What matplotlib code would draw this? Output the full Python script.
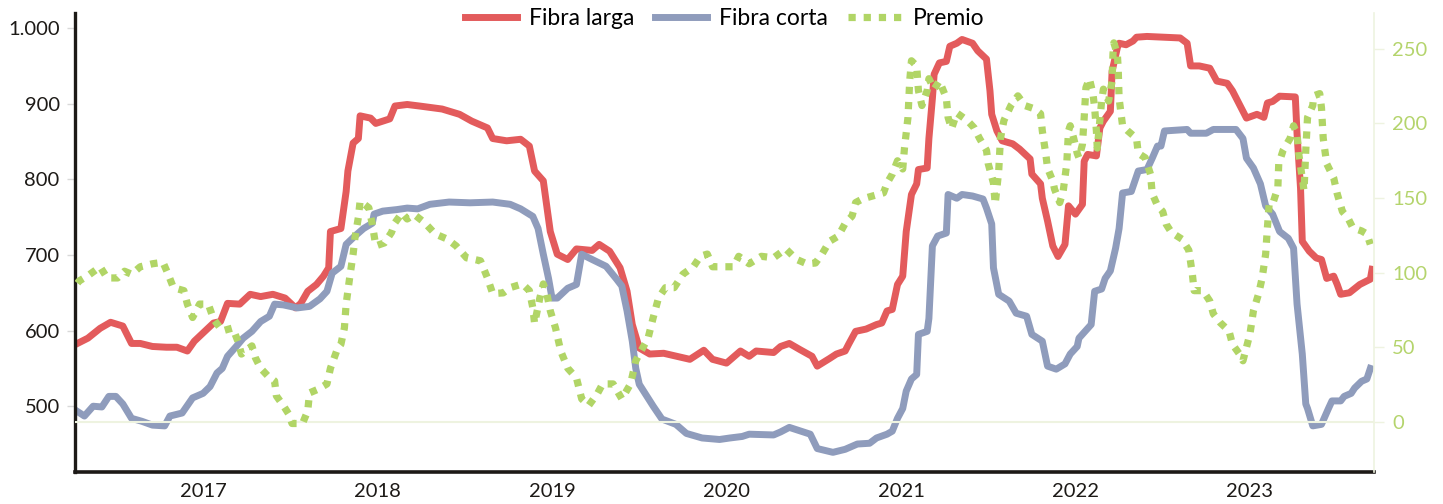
import matplotlib
matplotlib.use("Agg")
import matplotlib.pyplot as plt
from matplotlib.ticker import FuncFormatter

# ---------------- data (decimal years, values) ----------------
larga_x = [2016.28, 2016.34, 2016.41, 2016.47, 2016.54, 2016.59, 2016.64, 2016.71, 2016.79, 2016.85,
           2016.91, 2016.95, 2017.06, 2017.10, 2017.14, 2017.21, 2017.27, 2017.33, 2017.40, 2017.47,
           2017.53, 2017.56, 2017.60, 2017.65, 2017.69, 2017.72, 2017.73, 2017.79, 2017.82, 2017.83,
           2017.86, 2017.89, 2017.90, 2017.96, 2017.99, 2018.07, 2018.10, 2018.17, 2018.24, 2018.37,
           2018.47, 2018.54, 2018.63, 2018.66, 2018.74, 2018.82, 2018.87, 2018.90, 2018.95, 2018.99,
           2019.03, 2019.09, 2019.14, 2019.23, 2019.27, 2019.33, 2019.39, 2019.43, 2019.46, 2019.50,
           2019.56, 2019.64, 2019.79, 2019.87, 2019.92, 2020.00, 2020.08, 2020.13, 2020.17, 2020.27,
           2020.31, 2020.36, 2020.42, 2020.49, 2020.52, 2020.59, 2020.63, 2020.68, 2020.70, 2020.74,
           2020.80, 2020.86, 2020.89, 2020.92, 2020.95, 2020.98, 2021.01, 2021.03, 2021.06, 2021.09,
           2021.10, 2021.15, 2021.16, 2021.18, 2021.19, 2021.22, 2021.26, 2021.28, 2021.32, 2021.35,
           2021.41, 2021.44, 2021.49, 2021.51, 2021.52, 2021.55, 2021.58, 2021.64, 2021.68, 2021.74,
           2021.75, 2021.80, 2021.81, 2021.84, 2021.87, 2021.90, 2021.94, 2021.96, 2022.00, 2022.04,
           2022.05, 2022.07, 2022.12, 2022.14, 2022.16, 2022.20, 2022.21, 2022.24, 2022.25, 2022.29,
           2022.33, 2022.35, 2022.41, 2022.60, 2022.64, 2022.66, 2022.71, 2022.77, 2022.81, 2022.87,
           2022.90, 2022.94, 2022.98, 2023.04, 2023.08, 2023.10, 2023.13, 2023.17, 2023.26, 2023.27,
           2023.29, 2023.30, 2023.34, 2023.38, 2023.41, 2023.44, 2023.48, 2023.50, 2023.52, 2023.57,
           2023.63, 2023.69, 2023.70]
larga_v = [583, 590, 603, 611, 606, 583, 583, 579, 578, 578,
           573, 586, 610, 612, 636, 635, 648, 645, 648, 643,
           630, 636, 652, 661, 672, 683, 731, 735, 784, 811,
           848, 854, 884, 881, 874, 880, 897, 899, 897, 893,
           886, 877, 868, 854, 851, 853, 844, 811, 798, 731,
           701, 694, 708, 706, 714, 705, 683, 652, 608, 577,
           569, 570, 562, 574, 562, 557, 573, 566, 573, 571,
           579, 583, 575, 566, 553, 563, 569, 573, 582, 599,
           602, 608, 610, 626, 628, 661, 672, 731, 780, 794,
           813, 815, 854, 907, 939, 954, 956, 976, 980, 985,
           980, 970, 959, 917, 886, 864, 851, 847, 840, 827,
           807, 794, 775, 745, 712, 698, 714, 765, 754, 767,
           824, 833, 831, 868, 877, 890, 943, 974, 980, 978,
           983, 988, 989, 987, 980, 950, 950, 947, 930, 927,
           917, 899, 881, 886, 882, 901, 903, 910, 909, 860,
           788, 718, 705, 696, 694, 669, 672, 661, 648, 650,
           661, 668, 681]

corta_x = [2016.28, 2016.32, 2016.37, 2016.42, 2016.46, 2016.50, 2016.54, 2016.59, 2016.65, 2016.71,
           2016.78, 2016.81, 2016.88, 2016.94, 2017.00, 2017.04, 2017.08, 2017.11, 2017.14, 2017.19,
           2017.23, 2017.28, 2017.33, 2017.38, 2017.41, 2017.46, 2017.54, 2017.61, 2017.67, 2017.71,
           2017.74, 2017.79, 2017.82, 2017.87, 2017.92, 2017.97, 2017.98, 2018.03, 2018.11, 2018.17,
           2018.23, 2018.30, 2018.41, 2018.53, 2018.66, 2018.76, 2018.82, 2018.89, 2018.92, 2018.95,
           2018.98, 2019.00, 2019.03, 2019.09, 2019.14, 2019.17, 2019.23, 2019.31, 2019.37, 2019.40,
           2019.43, 2019.46, 2019.48, 2019.50, 2019.58, 2019.63, 2019.71, 2019.77, 2019.86, 2019.96,
           2020.02, 2020.09, 2020.13, 2020.27, 2020.31, 2020.36, 2020.48, 2020.52, 2020.61, 2020.68,
           2020.75, 2020.82, 2020.86, 2020.92, 2020.95, 2020.98, 2021.01, 2021.03, 2021.06, 2021.09,
           2021.10, 2021.15, 2021.16, 2021.18, 2021.21, 2021.26, 2021.27, 2021.32, 2021.35, 2021.41,
           2021.47, 2021.49, 2021.52, 2021.53, 2021.56, 2021.62, 2021.66, 2021.72, 2021.75, 2021.81,
           2021.84, 2021.89, 2021.94, 2021.97, 2022.01, 2022.02, 2022.09, 2022.11, 2022.15, 2022.17,
           2022.20, 2022.23, 2022.25, 2022.27, 2022.32, 2022.36, 2022.41, 2022.44, 2022.47, 2022.49,
           2022.51, 2022.64, 2022.66, 2022.75, 2022.79, 2022.92, 2022.96, 2022.98, 2023.02, 2023.06,
           2023.09, 2023.13, 2023.17, 2023.22, 2023.25, 2023.27, 2023.30, 2023.32, 2023.33, 2023.36,
           2023.41, 2023.45, 2023.47, 2023.52, 2023.54, 2023.58, 2023.60, 2023.64, 2023.67, 2023.69]
corta_v = [493, 487, 500, 499, 513, 513, 503, 484, 480, 475,
           474, 487, 491, 511, 517, 526, 544, 550, 566, 579,
           590, 599, 612, 619, 635, 634, 630, 632, 642, 652,
           676, 685, 714, 725, 735, 742, 754, 758, 760, 762,
           761, 767, 770, 769, 770, 767, 761, 751, 735, 701,
           669, 643, 643, 656, 661, 701, 694, 685, 668, 659,
           626, 586, 550, 529, 500, 483, 476, 464, 458, 456,
           458, 460, 463, 462, 466, 472, 463, 444, 439, 443,
           450, 451, 458, 463, 467, 484, 497, 520, 536, 542,
           595, 599, 616, 712, 725, 729, 780, 775, 780, 778,
           774, 762, 741, 683, 648, 639, 623, 619, 595, 586,
           553, 549, 556, 569, 579, 590, 608, 652, 655, 669,
           679, 709, 735, 782, 784, 811, 813, 828, 844, 844,
           864, 866, 861, 861, 866, 866, 854, 828, 815, 794,
           765, 754, 731, 722, 709, 635, 569, 503, 497, 474,
           476, 497, 507, 507, 513, 517, 524, 533, 536, 550]

premio_x = [2016.28, 2016.29, 2016.34, 2016.41, 2016.45, 2016.51, 2016.55, 2016.59, 2016.64, 2016.71,
            2016.77, 2016.80, 2016.83, 2016.89, 2016.91, 2016.94, 2016.98, 2017.03, 2017.06, 2017.11,
            2017.17, 2017.20, 2017.22, 2017.28, 2017.30, 2017.33, 2017.37, 2017.41, 2017.42, 2017.46,
            2017.49, 2017.51, 2017.57, 2017.60, 2017.61, 2017.66, 2017.71, 2017.73, 2017.77, 2017.79,
            2017.81, 2017.82, 2017.84, 2017.86, 2017.87, 2017.89, 2017.90, 2017.95, 2017.97, 2017.99,
            2018.04, 2018.08, 2018.10, 2018.14, 2018.17, 2018.21, 2018.27, 2018.33, 2018.40, 2018.45,
            2018.51, 2018.59, 2018.63, 2018.66, 2018.72, 2018.76, 2018.83, 2018.87, 2018.89, 2018.90,
            2018.93, 2018.95, 2018.97, 2018.99, 2019.02, 2019.05, 2019.09, 2019.14, 2019.17, 2019.21,
            2019.26, 2019.29, 2019.35, 2019.40, 2019.45, 2019.48, 2019.50, 2019.55, 2019.58, 2019.61,
            2019.65, 2019.70, 2019.75, 2019.81, 2019.85, 2019.89, 2019.92, 2019.98, 2020.04, 2020.07,
            2020.13, 2020.20, 2020.27, 2020.34, 2020.40, 2020.46, 2020.51, 2020.55, 2020.59, 2020.64,
            2020.68, 2020.72, 2020.74, 2020.78, 2020.84, 2020.90, 2020.92, 2020.95, 2020.98, 2021.01,
            2021.02, 2021.04, 2021.05, 2021.06, 2021.09, 2021.10, 2021.12, 2021.15, 2021.16, 2021.19,
            2021.22, 2021.26, 2021.27, 2021.29, 2021.32, 2021.38, 2021.42, 2021.45, 2021.49, 2021.50,
            2021.53, 2021.54, 2021.56, 2021.57, 2021.59, 2021.63, 2021.67, 2021.71, 2021.76, 2021.80,
            2021.81, 2021.83, 2021.84, 2021.87, 2021.88, 2021.91, 2021.93, 2021.95, 2021.96, 2021.97,
            2021.99, 2022.01, 2022.02, 2022.04, 2022.05, 2022.06, 2022.08, 2022.10, 2022.11, 2022.12,
            2022.125, 2022.14, 2022.15, 2022.16, 2022.19, 2022.21, 2022.215, 2022.22, 2022.24, 2022.245,
            2022.25, 2022.27, 2022.30, 2022.35, 2022.36, 2022.40, 2022.43, 2022.44, 2022.47, 2022.50,
            2022.52, 2022.55, 2022.61, 2022.65, 2022.67, 2022.68, 2022.73, 2022.77, 2022.79, 2022.83,
            2022.88, 2022.90, 2022.94, 2022.96, 2023.00, 2023.02, 2023.05, 2023.07, 2023.09, 2023.10,
            2023.11, 2023.13, 2023.16, 2023.165, 2023.19, 2023.23, 2023.25, 2023.27, 2023.28, 2023.30,
            2023.31, 2023.32, 2023.33, 2023.36, 2023.365, 2023.40, 2023.41, 2023.42, 2023.44, 2023.48,
            2023.50, 2023.53, 2023.56, 2023.59, 2023.64, 2023.67, 2023.69]
premio_v = [93, 94.5, 98, 104, 96.5, 96.5, 101, 99, 104, 106,
            107, 99, 90, 88, 79, 70, 79, 79, 69, 61,
            63, 54, 45.5, 51, 43, 36, 31, 27.5, 17.5, 11,
            5.5, -1, -1, 7.5, 19.5, 22, 25.5, 36, 49, 52,
            63, 79, 96.5, 112.5, 123, 137, 148, 143.5, 132.5, 118,
            120, 127, 133.5, 140, 136, 139, 133.5, 126, 122.5, 118,
            110, 108, 96.5, 86, 86.5, 90, 92.5, 88, 76.5, 66,
            83, 92.5, 86, 74.5, 63, 47.5, 36, 29.5, 15.5, 11,
            19, 25.5, 25.5, 15.5, 25.5, 41, 45.5, 56, 70, 83,
            90, 90, 99, 104, 111, 112.5, 104, 104, 104, 111,
            106, 111, 110, 116, 109, 106, 106.5, 113, 121, 124.5,
            133, 138, 147, 149.5, 151.5, 153.5, 160, 166, 175, 169.5,
            183.5, 204, 228.5, 242, 238.5, 222, 212, 222, 230, 223,
            228.5, 217, 204, 196.5, 207, 202, 197, 190, 182, 173,
            160, 146, 168, 190, 202, 212, 218.5, 212, 210, 206.5,
            195, 179.5, 170, 161.5, 156, 147, 155, 173, 195, 198.5,
            190, 180, 177, 186, 204, 224, 230, 220, 210.5, 195,
            183.5, 202, 215, 223, 215, 228.5, 246.5, 254, 246.5, 236.5,
            217, 198.5, 195, 190, 180, 177, 166, 153, 145, 141,
            132.5, 127, 122.5, 115, 99, 88, 88, 81, 72.5, 66.5,
            61, 52, 45.5, 41, 59, 74.5, 86, 96.5, 112.5, 130,
            146, 146, 157, 173, 182, 190, 198.5, 193, 179.5, 163.5,
            155, 182, 204, 212, 218.5, 220, 210.5, 190, 173, 163.5,
            153, 141, 137, 130, 128, 126, 119]

year_ticks = [2017, 2018, 2019, 2020, 2021, 2022, 2023]
left_ticks = [500, 600, 700, 800, 900, 1000]
right_ticks = [0, 50, 100, 150, 200, 250]

# ---------------- style ----------------
RED = "#E35B5C"
BLUE = "#8F9CBC"
GREEN = "#B1D566"
GREEN_TXT = "#B4D46C"
plt.rcParams['font.family'] = ['Lato', 'DejaVu Sans']

fig = plt.figure(figsize=(14.43, 5.04), dpi=100)
ax = fig.add_axes([75/1443, 32/504, 1299/1443, 459/504])
ax2 = ax.twinx()

ax.plot(larga_x, larga_v, color=RED, lw=5, solid_joinstyle='round', label='Fibra larga')
ax.plot(corta_x, corta_v, color=BLUE, lw=5, solid_joinstyle='round', label='Fibra corta')
ax2.axhline(0, color="#EEF3E0", lw=1.5, zorder=0)
ax2.plot(premio_x, premio_v, color=GREEN, lw=5.2, linestyle=(0, (1, 1.1)),
         dash_capstyle='butt', label='Premio')

ax.set_xlim(2016.266, 2023.711)
ax.set_ylim(413, 1020)
ax2.set_ylim(-33.5, 274)

ax.set_xticks(year_ticks)
ax.set_xticklabels([str(y) for y in year_ticks])
ax.set_yticks(left_ticks)
ax.yaxis.set_major_formatter(FuncFormatter(lambda v, p: f"{int(v):,}".replace(",", ".")))
ax2.set_yticks(right_ticks)

for s in ['top', 'right']:
    ax.spines[s].set_visible(False)
ax.spines['left'].set_linewidth(2.4)
ax.spines['left'].set_color('#1d1a17')
ax.spines['bottom'].set_linewidth(2.6)
ax.spines['bottom'].set_color('#1d1a17')
for s in ['top', 'left', 'bottom']:
    ax2.spines[s].set_visible(False)
ax2.spines['right'].set_color('#EEF3E0')
ax2.spines['right'].set_linewidth(1.2)

ax.tick_params(axis='x', length=0, pad=8, labelsize=14.5, labelcolor='#1d1a17')
ax.tick_params(axis='y', length=6, width=1, color='#d9d9d9', pad=5, labelsize=14.5,
               labelcolor='#1d1a17')
ax2.tick_params(axis='y', length=7, width=1, color='#EEF3E0', pad=6, labelsize=14.5,
                labelcolor=GREEN_TXT)

h1, l1 = ax.get_legend_handles_labels()
h2, l2 = ax2.get_legend_handles_labels()
fig.legend(h1 + h2, l1 + l2, loc='upper center', bbox_to_anchor=(0.502, 1.025), ncol=3,
           frameon=False, fontsize=16.5, handlelength=2.3, columnspacing=0.9,
           handletextpad=0.5)

fig.savefig("out.png", dpi=100)
